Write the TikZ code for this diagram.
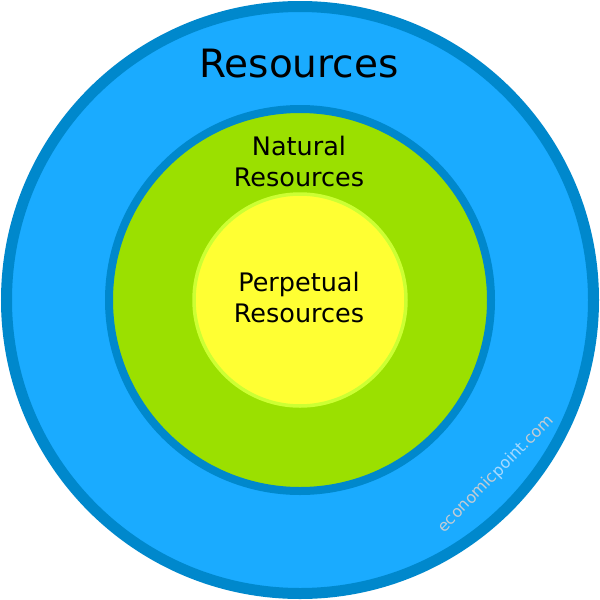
\documentclass[tikz,border=0pt]{standalone}
\usepackage{fontspec}
\setmainfont{DejaVu Sans}
\definecolor{outerfill}{HTML}{1AABFF}
\definecolor{ringblue}{HTML}{0088CC}
\definecolor{natfill}{HTML}{9BE000}
\definecolor{perpfill}{HTML}{FFFF33}
\definecolor{perpring}{HTML}{CCFF33}
\definecolor{wmgrey}{HTML}{C4CCD4}
\definecolor{wmblue}{HTML}{A6DAFF}
\begin{document}
\begin{tikzpicture}[x=1pt,y=-1pt,
  lbl/.style={anchor=base,inner sep=0pt,text=black,font=\fontsize{25.5}{30}\selectfont}]
\useasboundingbox (0,0) rectangle (600,600);
\fill[white] (0,0) rectangle (600,600);
\draw[ringblue,fill=outerfill,line width=11pt] (300,300) circle[radius=293.5];
\draw[ringblue,fill=natfill,line width=8pt] (300,300) circle[radius=191];
\draw[perpring,fill=perpfill,line width=3.5pt] (300,300) circle[radius=106];
\node[lbl,font=\fontsize{39}{44}\selectfont] (title) at (299,77) {Resources};
\node[lbl] (nat1) at (299,155) {Natural};
\node[lbl] (nat2) at (299,186) {Resources};
\node[lbl] (perp1) at (299,291) {Perpetual};
\node[lbl] (perp2) at (299,322) {Resources};
\node[inner sep=0pt,rotate=45.5,font=\fontsize{16}{18}\selectfont] (wm) at (496,474)
  {\textcolor{wmgrey}{economic}\textcolor{wmblue}{point}\textcolor{wmgrey}{.com}};
\end{tikzpicture}
\end{document}
